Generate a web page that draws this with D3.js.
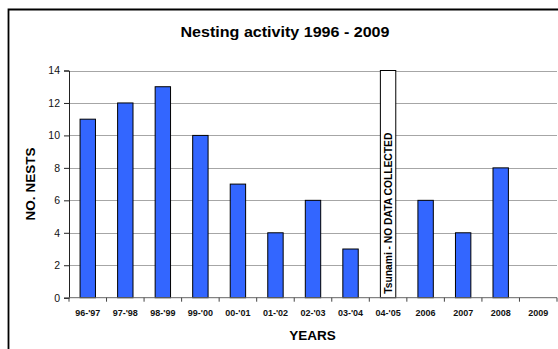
<!DOCTYPE html>
<html><head><meta charset="utf-8">
<script src="https://cdnjs.cloudflare.com/ajax/libs/d3/7.8.5/d3.min.js"></script>
<style>body{margin:0;background:#fff}svg{display:block;font-family:"Liberation Sans",Arial,sans-serif}</style>
</head><body>
<script>
const categories = ["96-'97","97-'98","98-'99","99-'00","00-'01","01-'02","02-'03","03-'04","04-'05","2006","2007","2008","2009"];
const nests = [11,12,13,10,7,4,6,3,14,6,4,8,0];
const noData = [false,false,false,false,false,false,false,false,true,false,false,false,false];
const yTicks = [0,2,4,6,8,10,12,14];
const title = "Nesting activity 1996 - 2009";
const noDataLabel = "Tsunami - NO DATA COLLECTED";

(function(){
const W = 558, H = 349;
const svg = d3.select("body").append("svg").attr("width", W).attr("height", H);

// outer border
svg.append("path").attr("d", `M8.5,${H+2} V9.5 H${W+2}`).attr("fill","none").attr("stroke","#000").attr("stroke-width",1.8);

const pL = 69, pR = 557, pT = 70.5, pB = 297.7;
const x = d3.scaleBand().domain(categories).range([pL, pR]).paddingInner(0.59).paddingOuter(0.295);
const xb = d3.scaleBand().domain(categories).range([pL, pR]);
const y = d3.scaleLinear().domain([0, 14]).range([pB, pT]);

// gridlines
svg.append("g").selectAll("line").data(yTicks.filter(d => d > 0)).join("line")
  .attr("x1", pL).attr("x2", pR).attr("y1", d => Math.round(y(d)) + 0.5).attr("y2", d => Math.round(y(d)) + 0.5)
  .attr("stroke", "#a6a6a6").attr("stroke-width", 1);

// bars
svg.append("g").selectAll("rect").data(categories).join("rect")
  .attr("x", (d) => x(d)).attr("width", x.bandwidth())
  .attr("y", (d, i) => y(nests[i])).attr("height", (d, i) => y(0) - y(nests[i]))
  .attr("fill", (d, i) => noData[i] ? "#fff" : "#3366ff")
  .attr("stroke", "#000").attr("stroke-width", 1)
  .attr("display", (d, i) => nests[i] > 0 ? null : "none");

// no data label
categories.forEach((c, i) => {
  if (!noData[i]) return;
  const cx = x(c) + x.bandwidth() / 2;
  svg.append("text").attr("transform", `translate(${cx + 3.8},${pB - 4}) rotate(-90)`)
    .attr("font-size", 11).attr("font-weight", "bold").attr("text-anchor", "start")
    .attr("textLength", 161).attr("lengthAdjust", "spacingAndGlyphs")
    .text(noDataLabel);
});

// y axis
const yAxis = svg.append("g").attr("transform", `translate(${pL},0)`)
  .call(d3.axisLeft(y).tickValues(yTicks).tickSize(5).tickPadding(4));
yAxis.select(".domain").attr("stroke", "#222");
yAxis.selectAll(".tick line").attr("stroke", "#222");
yAxis.selectAll("text").attr("font-size", 10.5).attr("font-family", "Liberation Sans, Arial, sans-serif").attr("fill", "#111");

// x axis
const xAxis = svg.append("g").attr("transform", `translate(0,${pB})`);
xAxis.append("line").attr("x1", pL).attr("x2", pR).attr("y1", 0).attr("y2", 0).attr("stroke", "#666");
xAxis.selectAll(".tk").data(categories.concat(["_end"])).join("line")
  .attr("x1", (d, i) => pL + i * xb.step()).attr("x2", (d, i) => pL + i * xb.step())
  .attr("y1", 0).attr("y2", 4).attr("stroke", "#444");
xAxis.selectAll(".lbl").data(categories).join("text")
  .attr("x", d => xb(d) + xb.bandwidth() / 2).attr("y", 18)
  .attr("text-anchor", "middle").attr("font-size", 9).attr("font-weight", "bold").attr("fill", "#111")
  .text(d => d);

// title
svg.append("text").attr("x", 285).attr("y", 37).attr("text-anchor", "middle")
  .attr("font-size", 15).attr("font-weight", "bold")
  .attr("textLength", 209).attr("lengthAdjust", "spacingAndGlyphs").text(title);
// axis titles
svg.append("text").attr("x", 312.5).attr("y", 340).attr("text-anchor", "middle")
  .attr("font-size", 13.5).attr("font-weight", "bold").text("YEARS");
svg.append("text").attr("transform", `translate(35,184) rotate(-90)`).attr("text-anchor", "middle")
  .attr("font-size", 13.5).attr("font-weight", "bold").text("NO. NESTS");
})();
</script>
</body></html>
